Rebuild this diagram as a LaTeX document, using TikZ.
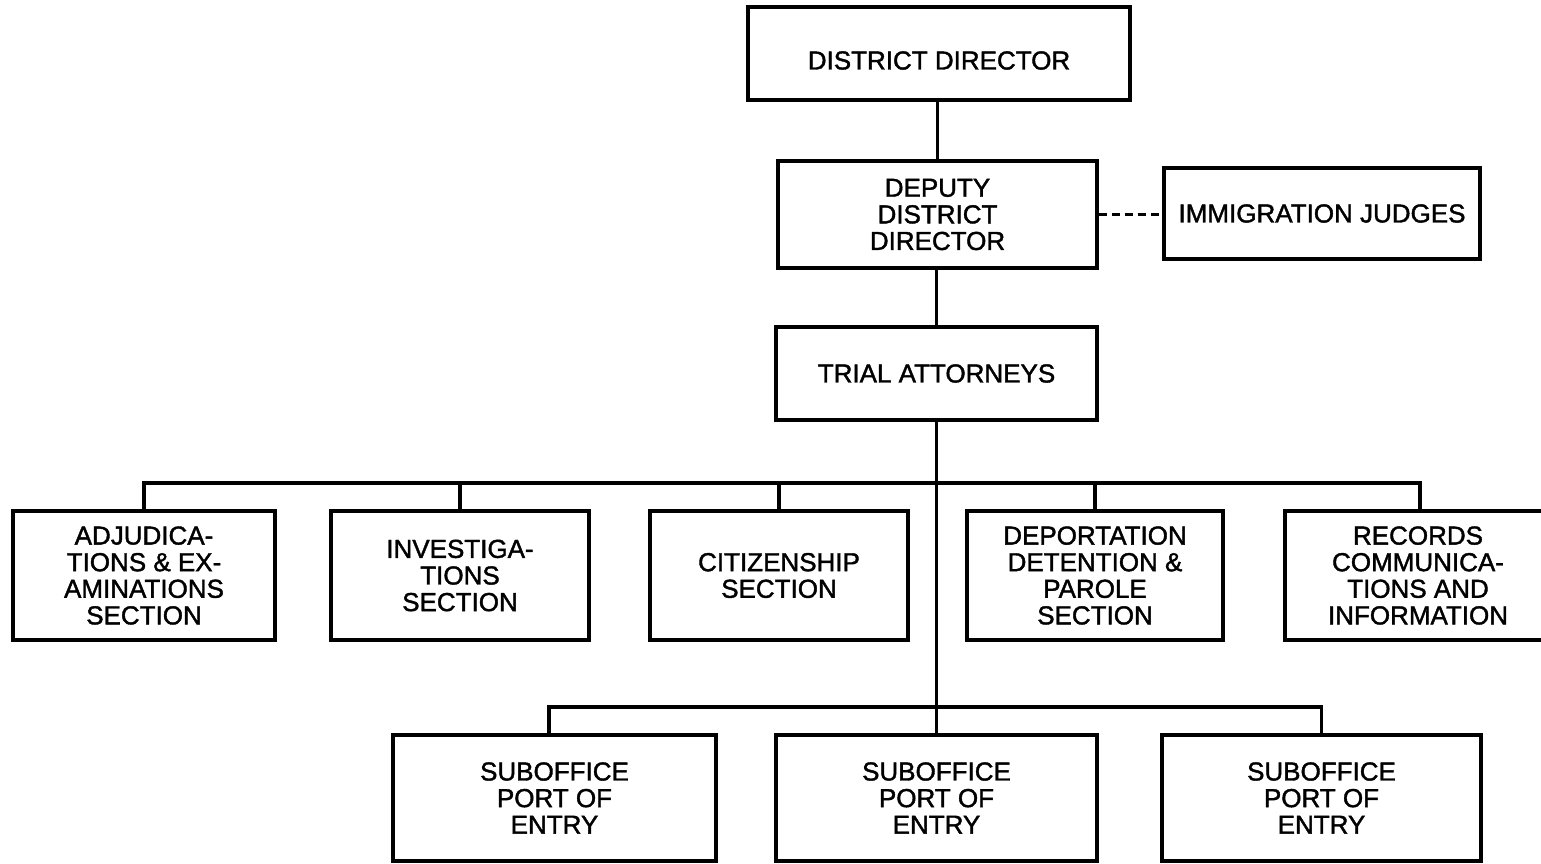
\documentclass[tikz,border=0pt]{standalone}
\usepackage{fontspec}
\setmainfont{Liberation Sans}[RawFeature={embolden=1.5}]
\begin{document}
\begin{tikzpicture}[x=0.5pt,y=-0.5pt,
  box/.style={draw, line width=1.6pt, align=center, inner sep=0pt,
    font=\fontsize{13}{13.3}\selectfont, minimum height=64.5pt},
  link/.style={line width=1.6pt, line join=miter},
  dashlink/.style={line width=1.2pt, dash pattern=on 4pt off 2.5pt}]
\useasboundingbox[fill=white] (0,0) rectangle (1541,863);
\node[box, minimum width=191pt, minimum height=46.5pt] (dd) at (939,53.5) {\raisebox{-3.5pt}[\height][\depth]{DISTRICT DIRECTOR}};
\node[box, minimum width=159.5pt, minimum height=53.5pt] (dep) at (937.5,214.5) {DEPUTY\\DISTRICT\\DIRECTOR};
\node[box, minimum width=158pt, minimum height=45.5pt] (ij) at (1322,213.5) {IMMIGRATION JUDGES};
\node[box, minimum width=160.5pt, minimum height=46.5pt] (ta) at (936.5,373.5) {TRIAL ATTORNEYS};
\node[box, minimum width=131pt] (adj) at (144,575.5) {ADJUDICA-\\TIONS \& EX-\\AMINATIONS\\SECTION};
\node[box, minimum width=129pt] (inv) at (460,575.5) {INVESTIGA-\\TIONS\\SECTION};
\node[box, minimum width=129pt] (cit) at (779,575.5) {CITIZENSHIP\\SECTION};
\node[box, minimum width=128pt] (dpp) at (1095,575.5) {DEPORTATION\\DETENTION \&\\PAROLE\\SECTION};
\node[box, minimum width=133pt] (rec) at (1418,575.5) {RECORDS\\COMMUNICA-\\TIONS AND\\INFORMATION};
\node[box, minimum width=161.5pt, minimum height=63pt] (s1) at (554.5,798) {SUBOFFICE\\PORT OF\\ENTRY};
\node[box, minimum width=160.5pt, minimum height=63pt] (s2) at (936.5,798) {SUBOFFICE\\PORT OF\\ENTRY};
\node[box, minimum width=159.5pt, minimum height=63pt] (s3) at (1321.5,798) {SUBOFFICE\\PORT OF\\ENTRY};
\coordinate (tb) at (936.5,483);
\coordinate (bb) at (936.5,707);
\draw[link] (dep.north |- dd.south) -- (dep.north);
\draw[link] (ta.north |- dep.south) -- (ta.north);
\draw[dashlink] (dep.east) -- (dep.east -| ij.west);
\draw[link] (ta.south) -- (s2.north);
\draw[link] (adj.north) |- (tb) -| ([xshift=1pt]rec.north);
\draw[link] (inv.north) -- (inv.north |- tb);
\draw[link] (cit.north) -- (cit.north |- tb);
\draw[link] (dpp.north) -- (dpp.north |- tb);
\draw[link] ([xshift=-2.75pt]s1.north) |- (bb) -| (s3.north);
\end{tikzpicture}
\end{document}
